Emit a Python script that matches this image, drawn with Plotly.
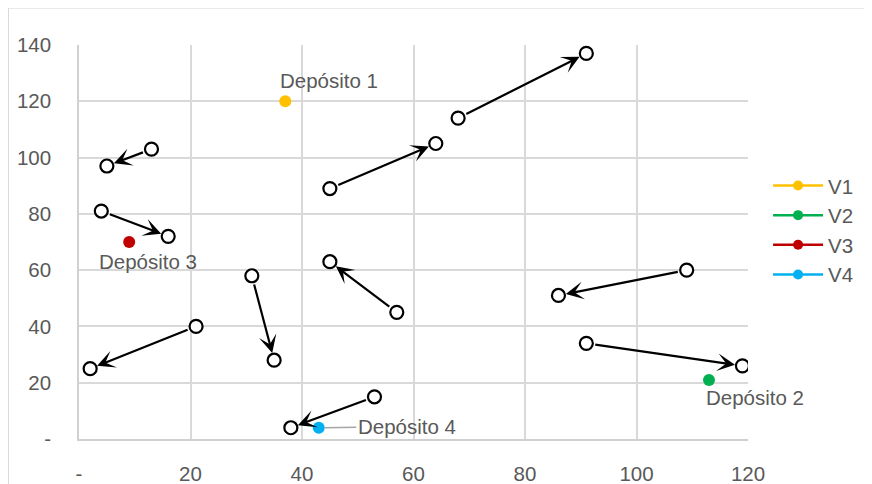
import plotly.graph_objects as go

# Route segments (from -> to)
from_x = [13, 4, 45, 68, 31, 57, 21, 53, 109, 91]
from_y = [103, 81, 89, 114, 58, 45, 40, 15, 60, 34]
to_x = [5, 16, 64, 91, 35, 45, 2, 38, 86, 119]
to_y = [97, 72, 105, 137, 28, 63, 25, 4, 51, 26]

# Depots
depot_names = ["V1", "V2", "V3", "V4"]
depot_labels = ["Depósito 1", "Depósito 2", "Depósito 3", "Depósito 4"]
depot_x = [37, 113, 9, 43]
depot_y = [120, 21, 70, 4]
depot_colors = ["#FFC000", "#00B050", "#C00000", "#00B0F0"]

x_ticks = [0, 20, 40, 60, 80, 100, 120]
x_ticktext = ["-", "20", "40", "60", "80", "100", "120"]
y_ticks = [0, 20, 40, 60, 80, 100, 120, 140]
y_ticktext = ["-", "20", "40", "60", "80", "100", "120", "140"]

FONT = "Liberation Sans, Arial, sans-serif"
GREY = "#595959"
FS = 20.5

fig = go.Figure()

pts_x = from_x + to_x
pts_y = from_y + to_y
fig.add_trace(go.Scatter(
    x=pts_x, y=pts_y, mode="markers", showlegend=False, hoverinfo="skip",
    marker=dict(size=13, color="white", line=dict(color="black", width=2.2)),
))

for n, xx, yy, c in zip(depot_names, depot_x, depot_y, depot_colors):
    fig.add_trace(go.Scatter(
        x=[xx], y=[yy], mode="markers", name=n, showlegend=False,
        marker=dict(size=12, color=c),
    ))
for n, c in zip(depot_names, depot_colors):
    fig.add_trace(go.Scatter(
        x=[None], y=[None], mode="lines+markers", name=n,
        line=dict(color=c, width=2.5), marker=dict(size=10, color=c),
    ))

annotations = []
for fx, fy, tx, ty in zip(from_x, from_y, to_x, to_y):
    annotations.append(dict(
        x=tx, y=ty, ax=fx, ay=fy, xref="x", yref="y", axref="x", ayref="y",
        text="", showarrow=True, arrowhead=3, arrowsize=1.35, arrowwidth=2.2,
        arrowcolor="black", standoff=7.5, startstandoff=7.5,
    ))

label_shift = [(-7, 21), (-5, -18), (-32, -19)]
for i in range(3):
    annotations.append(dict(
        x=depot_x[i], y=depot_y[i], xref="x", yref="y", text=depot_labels[i],
        showarrow=False, xanchor="left", yanchor="middle",
        xshift=label_shift[i][0], yshift=label_shift[i][1],
        font=dict(family=FONT, size=FS, color=GREY),
    ))
annotations.append(dict(
    x=depot_x[3], y=depot_y[3], xref="x", yref="y", text=depot_labels[3],
    showarrow=True, arrowhead=0, arrowwidth=1.5, arrowcolor="#a6a6a6",
    ax=88, ay=-1, standoff=6, xanchor="center", yanchor="middle",
    font=dict(family=FONT, size=FS, color=GREY),
))

# page body has an 8px margin
OFF = 8
W, H = 872 - OFF, 484 - OFF
L, R, T, B = 79 - OFF, 748 - OFF, 44.5 - OFF, 439.3 - OFF
def px2x(p):
    return (p - OFF - L) / (R - L)
def py2y(p):
    return (B - (p - OFF)) / (B - T)

fig.update_layout(
    width=W, height=H,
    margin=dict(l=L, r=W - R, t=T, b=H - B, autoexpand=False),
    paper_bgcolor="white", plot_bgcolor="white",
    font=dict(family=FONT, size=FS, color=GREY),
    annotations=annotations,
    shapes=[dict(type="rect", xref="paper", yref="paper",
                 x0=px2x(8.5), x1=px2x(900), y0=py2y(7.5), y1=py2y(520),
                 line=dict(color="#d9d9d9", width=1))],
    legend=dict(x=1.03, y=0.53, xanchor="left", yanchor="middle",
                font=dict(family=FONT, size=FS, color=GREY),
                bgcolor="rgba(0,0,0,0)", itemwidth=50),
    xaxis=dict(range=[0, 120], tickvals=x_ticks, ticktext=x_ticktext,
               showgrid=True, gridcolor="#d9d9d9", gridwidth=1.5,
               zeroline=False, showline=True, linecolor="#d0d0d0", linewidth=1.5,
               ticks="", ticklabelstandoff=16, fixedrange=True),
    yaxis=dict(range=[0, 140], tickvals=y_ticks, ticktext=y_ticktext,
               showgrid=True, gridcolor="#d9d9d9", gridwidth=1.5,
               zeroline=False, showline=True, linecolor="#d0d0d0", linewidth=1.5,
               ticks="", ticklabelstandoff=22, fixedrange=True),
)

fig.write_html("out.html")
